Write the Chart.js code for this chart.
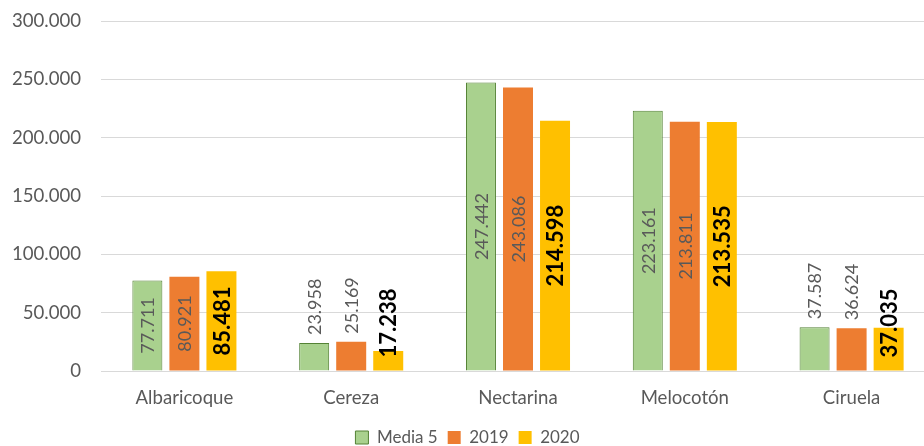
<!DOCTYPE html>
<html>
<head>
<meta charset="utf-8">
<script src="https://cdn.jsdelivr.net/npm/chart.js@4"></script>
<style>
  html, body { margin: 0; padding: 0; background: #fff; overflow: hidden; }
  #wrap { width: 935px; height: 466px; margin-top: -10px; }
</style>
</head>
<body>
<div id="wrap"><canvas id="barChart"></canvas></div>
<script>
// Datos
const categorias = ["Albaricoque", "Cereza", "Nectarina", "Melocotón", "Ciruela"];
const media5 = [77711, 23958, 247442, 223161, 37587];
const anio2019 = [80921, 25169, 243086, 213811, 36624];
const anio2020 = [85481, 17238, 214598, 213535, 37035];
const ticksY = [0, 50000, 100000, 150000, 200000, 250000, 300000];

// Formato con punto de miles
function fmt(v) {
    return String(Math.round(v)).replace(/\B(?=(\d{3})+(?!\d))/g, ".");
}

// Etiquetas de datos giradas
const etiquetas = {
    id: 'etiquetas',
    afterDatasetsDraw(chart) {
        const ctx = chart.ctx;
        chart.data.datasets.forEach((ds, di) => {
            const meta = chart.getDatasetMeta(di);
            const negrita = di === 2;
            ctx.save();
            ctx.font = negrita ? 'bold 22px Lato' : '18px Lato';
            ctx.fillStyle = negrita ? '#000000' : '#595959';
            ctx.textAlign = 'center';
            ctx.textBaseline = 'middle';
            meta.data.forEach((bar, i) => {
                const txt = fmt(ds.data[i]);
                const w = ctx.measureText(txt).width;
                const alto = bar.base - bar.y;
                let cy;
                if (negrita) {
                    cy = Math.min((bar.y + bar.base) / 2, bar.base - 13 - w / 2);
                } else if (w + 16 <= alto) {
                    cy = (bar.y + bar.base) / 2;
                } else {
                    cy = bar.y - 8 - w / 2;
                }
                ctx.save();
                ctx.translate(bar.x, cy);
                ctx.rotate(-Math.PI / 2);
                ctx.fillText(txt, 0, 1);
                ctx.restore();
            });
            ctx.restore();
        });
    }
};

const config = {
    type: 'bar',
    data: {
        labels: categorias,
        datasets: [
            {
                label: 'Media 5',
                data: media5,
                backgroundColor: '#A9D18E',
                borderColor: '#548235',
                borderWidth: 1
            },
            {
                label: '2019',
                data: anio2019,
                backgroundColor: '#ED7D31',
                borderWidth: 0
            },
            {
                label: '2020',
                data: anio2020,
                backgroundColor: '#FFC000',
                borderWidth: 0
            }
        ]
    },
    options: {
        responsive: true,
        maintainAspectRatio: false,
        animation: false,
        datasets: {
            bar: { categoryPercentage: 0.666, barPercentage: 0.81 }
        },
        layout: { padding: { top: 10, left: 0, right: 0, bottom: 0 } },
        scales: {
            x: {
                grid: { display: false },
                border: { display: false },
                ticks: {
                    color: '#595959',
                    font: { family: 'Lato', size: 18.6 },
                    padding: 8
                },
                afterFit(scale) { scale.height = 48; }
            },
            y: {
                min: 0,
                max: 300000,
                afterBuildTicks(scale) {
                    scale.ticks = ticksY.map(v => ({ value: v }));
                },
                grid: { color: '#D9D9D9', drawTicks: false, lineWidth: 1 },
                border: { display: false },
                ticks: {
                    color: '#595959',
                    font: { family: 'Lato', size: 18.6 },
                    padding: 20,
                    callback: v => fmt(v)
                },
                afterFit(scale) { scale.width = 101; }
            }
        },
        plugins: {
            legend: {
                position: 'bottom',
                labels: {
                    color: '#595959',
                    font: { family: 'Lato', size: 17 },
                    boxWidth: 13,
                    boxHeight: 13,
                    padding: 10
                }
            },
            tooltip: { enabled: false }
        }
    },
    plugins: [etiquetas]
};

const ctx = document.getElementById('barChart').getContext('2d');
const myChart = new Chart(ctx, config);
</script>
</body>
</html>
